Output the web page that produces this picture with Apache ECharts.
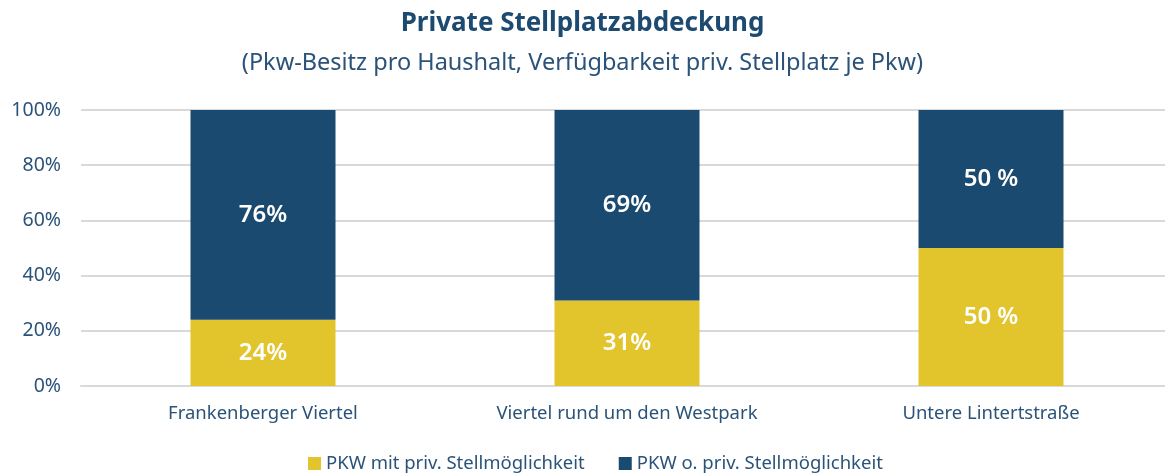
<!DOCTYPE html>
<html>
<head>
<meta charset="utf-8">
<script src="https://cdn.jsdelivr.net/npm/echarts@6/dist/echarts.min.js"></script>
<style>
  html, body { margin: 0; padding: 0; background: #fff; }
  #chart { width: 1165px; height: 474px; }
</style>
</head>
<body>
<div id="chart"></div>
<script>
// Werte aus der Grafik
var categories = ['Frankenberger Viertel', 'Viertel rund um den Westpark', 'Untere Lintertstraße']
var mitStellplatz = [24, 31, 50]
var ohneStellplatz = [76, 69, 50]
var mitLabels = ['24%', '31%', '50 %']
var ohneLabels = ['76%', '69%', '50 %']
var yTicks = ['0%', '20%', '40%', '60%', '80%', '100%']

var textColor = '#2b5379'
var fontFamily = '"Noto Sans", "Open Sans", sans-serif'

var myChart = echarts.init(document.getElementById('chart'))

var option = {
  animation: false,
  textStyle: { fontFamily: fontFamily },
  title: {
    text: 'Private Stellplatzabdeckung',
    subtext: '(Pkw-Besitz pro Haushalt, Verfügbarkeit priv. Stellplatz je Pkw)',
    left: 'center',
    top: 6,
    itemGap: 14,
    textStyle: { fontSize: 26, fontWeight: 'bold', color: '#1d4a70', fontFamily: fontFamily },
    subtextStyle: { fontSize: 23.5, color: textColor, fontFamily: fontFamily }
  },
  legend: {
    bottom: -4,
    left: 303,
    itemWidth: 13,
    itemHeight: 13,
    itemGap: 34,
    icon: 'rect',
    textStyle: { fontSize: 18.5, color: textColor, fontFamily: fontFamily },
    data: ['PKW mit priv. Stellmöglichkeit', 'PKW o. priv. Stellmöglichkeit']
  },
  grid: {
    left: 81,
    top: 110,
    width: 1092,
    height: 276,
    outerBoundsMode: 'none'
  },
  xAxis: {
    type: 'category',
    data: categories,
    axisTick: { show: false },
    axisLine: { lineStyle: { color: '#d9d9d9', width: 2 } },
    axisLabel: { fontSize: 18.5, color: textColor, margin: 18 }
  },
  yAxis: {
    type: 'value',
    min: 0,
    max: 100,
    interval: 20,
    axisLabel: {
      fontSize: 19.5,
      color: textColor,
      margin: 20,
      formatter: function (v) { return yTicks[v / 20] }
    },
    splitLine: { lineStyle: { color: '#d9d9d9', width: 2 } },
    axisLine: { show: false },
    axisTick: { show: false }
  },
  series: [
    {
      name: 'PKW mit priv. Stellmöglichkeit',
      type: 'bar',
      stack: 'pkw',
      barWidth: 145,
      data: mitStellplatz,
      itemStyle: { color: '#e2c42d' },
      label: {
        show: true,
        position: 'inside',
        color: '#fff',
        fontSize: 24,
        fontWeight: 600,
        formatter: function (p) { return mitLabels[p.dataIndex] }
      }
    },
    {
      name: 'PKW o. priv. Stellmöglichkeit',
      type: 'bar',
      stack: 'pkw',
      barWidth: 145,
      data: ohneStellplatz,
      itemStyle: { color: '#1a4a6f' },
      label: {
        show: true,
        position: 'inside',
        color: '#fff',
        fontSize: 24,
        fontWeight: 600,
        formatter: function (p) { return ohneLabels[p.dataIndex] }
      }
    }
  ]
}

myChart.setOption(option)
</script>
</body>
</html>
